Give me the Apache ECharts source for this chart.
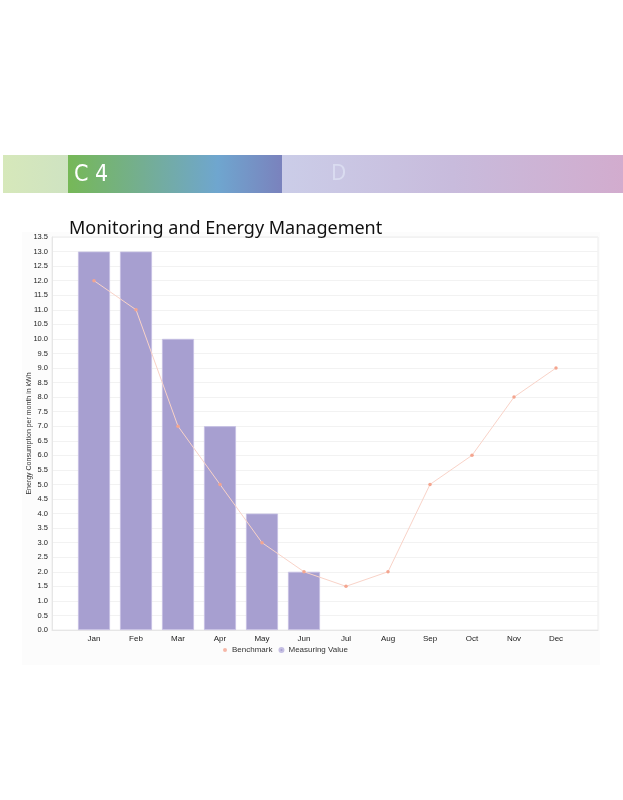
<!DOCTYPE html>
<html>
<head>
<meta charset="utf-8">
<script src="https://cdn.jsdelivr.net/npm/echarts@6/dist/echarts.min.js"></script>
<style>
html,body{margin:0;padding:0;background:#fff;}
#c{width:623px;height:800px;}
</style>
</head>
<body>
<div id="c"></div>
<script>
var categories = ['Jan','Feb','Mar','Apr','May','Jun','Jul','Aug','Sep','Oct','Nov','Dec'];
var measuringValue = [13, 13, 10, 7, 4, 2, null, null, null, null, null, null];
var benchmark = [12, 11, 7, 5, 3, 2, 1.5, 2, 5, 6, 8, 9];
var yTicks = {min: 0, max: 13.5, step: 0.5};

var axisCats = [''].concat(categories).concat(['']);
var padBars = [null].concat(measuringValue).concat([null]);
var padLine = [null].concat(benchmark).concat([null]);

var chart = echarts.init(document.getElementById('c'), null, {renderer: 'canvas'});
chart.setOption({
  animation: false,
  backgroundColor: '#ffffff',
  title: {
    text: 'Monitoring and Energy Management',
    left: 64, top: 215,
    textStyle: {fontFamily: 'Noto Sans', fontSize: 18, fontWeight: 'normal', color: '#111'}
  },
  graphic: [
    {type: 'rect', z: -10, shape: {x: 22, y: 232, width: 578, height: 433},
     style: {fill: '#fcfcfc'}},
    {type: 'rect', shape: {x: 3, y: 155, width: 66, height: 38},
     style: {fill: {type: 'linear', x: 0, y: 0, x2: 1, y2: 0,
       colorStops: [{offset: 0, color: '#d6e8ba'}, {offset: 1, color: '#cfe3c2'}]}}},
    {type: 'rect', shape: {x: 68, y: 155, width: 214, height: 38},
     style: {fill: {type: 'linear', x: 0, y: 0, x2: 1, y2: 0,
       colorStops: [{offset: 0, color: '#76b857'}, {offset: 0.35, color: '#74ae92'},
                    {offset: 0.7, color: '#6fa6cf'}, {offset: 1, color: '#7a82bd'}]}}},
    {type: 'rect', shape: {x: 282, y: 155, width: 341, height: 38},
     style: {fill: {type: 'linear', x: 0, y: 0, x2: 1, y2: 0,
       colorStops: [{offset: 0, color: '#cbcde8'}, {offset: 0.5, color: '#c8bbdc'},
                    {offset: 1, color: '#d2acce'}]}}},
    {type: 'text', x: 74, y: 175,
     style: {text: 'C 4', fill: '#ffffff', font: '23px "DejaVu Sans Condensed", "Noto Sans"', verticalAlign: 'middle'}},
    {type: 'text', x: 331, y: 174,
     style: {text: 'D', fill: '#dadcf0', font: '21px "Noto Sans"', verticalAlign: 'middle'}}
  ],
  grid: {left: 52, right: 25, top: 237, bottom: 170, show: true, borderColor: '#ececec', borderWidth: 1, backgroundColor: '#ffffff'},
  legend: {
    top: 641, left: 218,
    itemWidth: 4, itemHeight: 4, itemGap: 6,
    textStyle: {fontFamily: 'Liberation Sans', fontSize: 8, color: '#333'},
    data: [
      {name: 'Benchmark', icon: 'circle', itemStyle: {color: '#f6b7a8'}},
      {name: 'Measuring Value', icon: 'circle', itemStyle: {color: '#a79fd0'}}
    ]
  },
  xAxis: {
    type: 'category', data: axisCats, boundaryGap: false,
    axisLine: {show: true, lineStyle: {color: '#e6e6e6'}},
    axisTick: {show: false},
    splitLine: {show: false},
    axisLabel: {fontFamily: 'Liberation Sans', fontSize: 8, color: '#222', margin: 5, interval: 0}
  },
  yAxis: {
    type: 'value', min: yTicks.min, max: yTicks.max, interval: yTicks.step,
    name: 'Energy Consumption per month in kWh', nameLocation: 'middle', nameGap: 19,
    nameMoveOverlap: false,
    nameTextStyle: {fontFamily: 'Liberation Sans', fontSize: 7, color: '#333'},
    axisLine: {show: true, lineStyle: {color: '#e6e6e6'}},
    axisTick: {show: false},
    splitLine: {show: true, lineStyle: {color: '#f2f2f2', width: 1}},
    axisLabel: {fontFamily: 'Liberation Sans', fontSize: 7.5, color: '#222', margin: 4,
      formatter: function (v) { return v.toFixed(1); }}
  },
  series: [
    {name: 'Measuring Value', type: 'bar', data: padBars, barWidth: 32, z: 1,
     itemStyle: {color: '#a79fd0', borderColor: '#c5bfe3', borderWidth: 0.8}},
    {name: 'Benchmark', type: 'line', data: padLine, z: 3, connectNulls: false,
     symbol: 'circle', symbolSize: 3.5, showSymbol: true,
     lineStyle: {color: '#f9d3c8', width: 1},
     itemStyle: {color: '#f4a58f'}}
  ]
});
</script>
</body>
</html>
